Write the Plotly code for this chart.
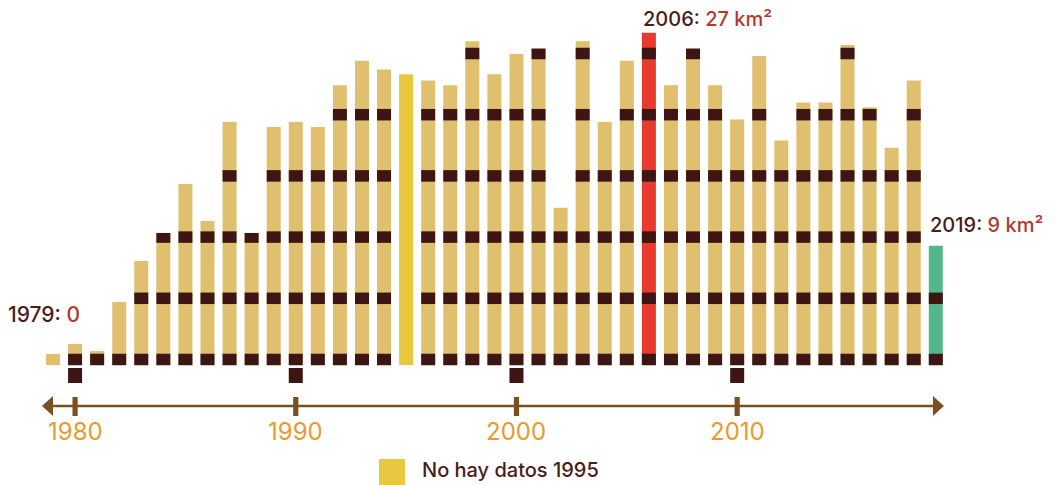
import plotly.graph_objects as go

# ---------------- data ----------------
years = list(range(1979, 2020))
area_km2 = [0, 1.27, 0.69, 4.70, 8.05, 10.34, 14.34, 11.32, 19.4, 10.34,
            19.0, 19.4, 19.0, 22.4, 24.4, 23.7, None, 22.8, 22.4, 26.0,
            23.3, 24.95, 25.4, 12.4, 26.0, 19.4, 24.4, 26.7, 22.4, 25.4,
            22.4, 19.6, 24.8, 17.9, 21.0, 21.0, 25.7, 20.6, 17.3, 22.8, 9.3]
nodata_year = 1995
nodata_height = 23.3
band_levels = [0, 5, 10, 15, 20, 25]
decade_ticks = [1980, 1990, 2000, 2010]
tick_labels = ["1980", "1990", "2000", "2010"]
first_label = ("1979:", "0")
max_label = ("2006:", "27 km²")
last_label = ("2019:", "9 km²")
legend_text = "No hay datos 1995"

# ---------------- style ----------------
W, H = 1056, 485
OFF = 8  # page body margin
TAN = "#E0BF6F"
DARK = "#3D1512"
YELLOW = "#E8C840"
RED = "#E63B2E"
GREEN = "#55B68C"
AXIS = "#7B5020"
ORANGE = "#E89A30"
TXT = "#4A1C1A"
TXT_RED = "#B23A30"
FONT = "Inter"
highlight = {1995: YELLOW, 2006: RED, 2019: GREEN}

PX_PER_YEAR = 22.07
PX_PER_KM = 12.24
X0_PX = 53.0 - OFF    # pixel centre of first year
Y0_PX = 359.5 - OFF   # pixel of zero level
x_min = years[0] - X0_PX / PX_PER_YEAR
x_max = x_min + W / PX_PER_YEAR
y_max = Y0_PX / PX_PER_KM
y_min = (Y0_PX - H) / PX_PER_KM


def vy(py):  # reference pixel y -> data value
    return (Y0_PX - (py - OFF)) / PX_PER_KM


def px(x):  # reference pixel x -> paper
    return (x - OFF) / W


def py(y):  # reference pixel y -> paper
    return 1 - (y - OFF) / H


BAR_W = 14 / PX_PER_YEAR
BASE = vy(365)
HALF = 0.47
STUB = 0.45

fig = go.Figure()

# main bars
main_y, main_c = [], []
for yr, v in zip(years, area_km2):
    h = nodata_height if v is None else max(v, STUB)
    main_y.append(h - BASE)
    main_c.append(highlight.get(yr, TAN))
fig.add_trace(go.Bar(x=years, y=main_y, base=BASE, width=BAR_W,
                     marker=dict(color=main_c, line=dict(width=0)),
                     hoverinfo="skip", showlegend=False))

# dark bands
for L in band_levels:
    bx, by = [], []
    for yr, v in zip(years, area_km2):
        if v is None or v <= L:
            continue
        bx.append(yr)
        by.append(min(v, L + HALF) - (L - HALF))
    fig.add_trace(go.Bar(x=bx, y=by, base=L - HALF, width=BAR_W,
                         marker=dict(color=DARK, line=dict(width=0)),
                         hoverinfo="skip", showlegend=False))

# decade markers below baseline
fig.add_trace(go.Bar(x=decade_ticks, y=[vy(368) - vy(383)] * len(decade_ticks),
                     base=vy(383), width=BAR_W,
                     marker=dict(color=DARK, line=dict(width=0)),
                     hoverinfo="skip", showlegend=False))

shapes = []
ay = vy(406)
left_tip = years[0] - 0.5
right_tip = years[-1] + 0.37
head = 0.5
hh = 10 / PX_PER_KM
shapes.append(dict(type="line", xref="x", yref="y", x0=left_tip + 0.2, x1=right_tip - 0.2,
                   y0=ay, y1=ay, line=dict(color=AXIS, width=2.5)))
shapes.append(dict(type="path", xref="x", yref="y",
                   path=f"M {left_tip} {ay} L {left_tip + head} {ay + hh} L {left_tip + head} {ay - hh} Z",
                   fillcolor=AXIS, line=dict(width=0)))
shapes.append(dict(type="path", xref="x", yref="y",
                   path=f"M {right_tip} {ay} L {right_tip - head} {ay + hh} L {right_tip - head} {ay - hh} Z",
                   fillcolor=AXIS, line=dict(width=0)))
tw = 2.6 / PX_PER_YEAR
for d in decade_ticks:
    shapes.append(dict(type="rect", xref="x", yref="y", x0=d - tw, x1=d + tw,
                       y0=vy(416), y1=vy(397), fillcolor=AXIS, line=dict(width=0)))
# legend swatch
shapes.append(dict(type="rect", xref="paper", yref="paper",
                   x0=px(379), x1=px(405), y0=py(485), y1=py(459),
                   fillcolor=YELLOW, line=dict(width=0)))

annotations = []
for d, t in zip(decade_ticks, tick_labels):
    annotations.append(dict(x=d, y=vy(431), xref="x", yref="y", text=t, showarrow=False,
                            font=dict(family=FONT, size=24, color=ORANGE),
                            xanchor="center", yanchor="middle"))


def two_tone(a, b):
    return f'<span style="color:{TXT}">{a}</span> <span style="color:{TXT_RED}">{b}</span>'


annotations.append(dict(x=px(6), y=py(314), xref="paper", yref="paper",
                        text=two_tone(*first_label), showarrow=False,
                        font=dict(family=FONT, size=21, weight=500), xanchor="left", yanchor="middle"))
annotations.append(dict(x=2006 - BAR_W / 2 - 0.05, y=vy(19), xref="x", yref="y",
                        text=two_tone(*max_label), showarrow=False,
                        font=dict(family=FONT, size=20, weight=500), xanchor="left", yanchor="middle"))
annotations.append(dict(x=2019 - BAR_W / 2 - 0.05, y=vy(225), xref="x", yref="y",
                        text=two_tone(*last_label), showarrow=False,
                        font=dict(family=FONT, size=20, weight=500), xanchor="left", yanchor="middle"))
annotations.append(dict(x=px(420), y=py(470), xref="paper", yref="paper",
                        text=legend_text, showarrow=False,
                        font=dict(family=FONT, size=20, color=TXT, weight=500),
                        xanchor="left", yanchor="middle"))

fig.update_layout(
    width=W, height=H,
    margin=dict(l=0, r=0, t=0, b=0),
    paper_bgcolor="white", plot_bgcolor="white",
    barmode="overlay",
    xaxis=dict(range=[x_min, x_max], visible=False, fixedrange=True),
    yaxis=dict(range=[y_min, y_max], visible=False, fixedrange=True),
    shapes=shapes, annotations=annotations,
    showlegend=False,
)

fig.write_html("out.html", config={"displayModeBar": False})
